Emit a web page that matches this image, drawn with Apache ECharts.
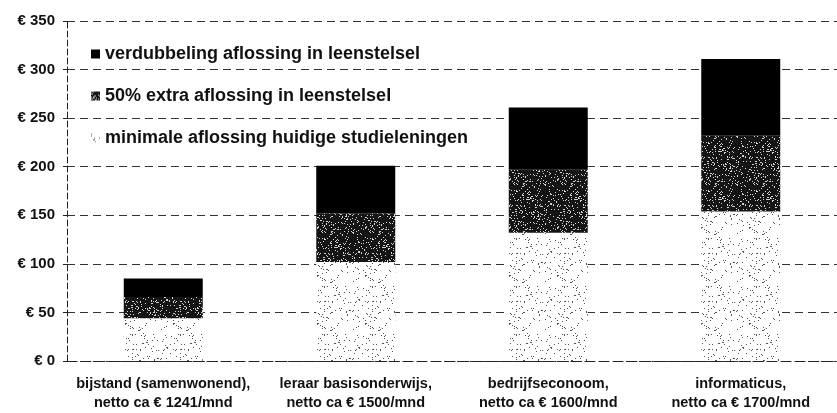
<!DOCTYPE html>
<html>
<head>
<meta charset="utf-8">
<script src="https://cdn.jsdelivr.net/npm/echarts@6/dist/echarts.min.js"></script>
<style>
html, body { margin: 0; padding: 0; background: #fff; }
#chart { width: 837px; height: 413px; }
</style>
</head>
<body>
<div id="chart"></div>
<script>
// categorieen + bedragen (euro per maand)
var categories = [
  'bijstand (samenwonend),\nnetto ca € 1241/mnd',
  'leraar basisonderwijs,\nnetto ca € 1500/mnd',
  'bedrijfseconoom,\nnetto ca € 1600/mnd',
  'informaticus,\nnetto ca € 1700/mnd'
];
var minimaal = [44, 102, 132, 154];
var extra50 = [22, 50, 65, 78];
var verdubbeling = [19, 49, 64, 79];

var seriesNames = [
  'verdubbeling aflossing in leenstelsel',
  '50% extra aflossing in leenstelsel',
  'minimale aflossing huidige studieleningen'
];

// gespikkelde vulling zoals in de scan (vast patroon, geen toeval)
function speckle(bg, dot, density) {
  var c = document.createElement('canvas');
  c.width = 48; c.height = 48;
  var ctx = c.getContext('2d');
  ctx.fillStyle = bg;
  ctx.fillRect(0, 0, 48, 48);
  ctx.fillStyle = dot;
  for (var y = 0; y < 48; y++) {
    for (var x = 0; x < 48; x++) {
      var h = Math.sin(x * 12.9898 + y * 78.233) * 43758.5453;
      h = h - Math.floor(h);
      if (h < density) ctx.fillRect(x, y, 1, 1);
    }
  }
  return { image: c, repeat: 'repeat' };
}

var chart = echarts.init(document.getElementById('chart'));
var font = 'Liberation Sans, Arial, sans-serif';

chart.setOption({
  animation: false,
  grid: { left: 67, right: -14, top: 21, bottom: 52 },
  legend: {
    orient: 'vertical',
    left: 86,
    top: 40,
    itemGap: 24,
    itemWidth: 9,
    itemHeight: 9,
    icon: 'rect',
    data: seriesNames,
    textStyle: { fontFamily: font, fontWeight: 'bold', fontSize: 18, color: '#111' }
  },
  xAxis: {
    type: 'category',
    data: categories,
    axisLine: { lineStyle: { color: '#222', type: [10, 4] } },
    axisTick: { show: false },
    axisLabel: {
      fontFamily: font, fontWeight: 'bold', fontSize: 14.5, color: '#111',
      lineHeight: 19, margin: 13, interval: 0
    }
  },
  yAxis: {
    type: 'value',
    min: 0, max: 350, interval: 50,
    axisLine: { show: true, lineStyle: { color: '#222', type: [6, 3] } },
    axisTick: { show: true, length: 4, lineStyle: { color: '#222' } },
    axisLabel: {
      fontFamily: font, fontWeight: 'bold', fontSize: 15, color: '#111', margin: 12,
      formatter: function (v) { return '€ ' + v; }
    },
    splitLine: { lineStyle: { color: '#333', type: [8, 5], width: 1 } }
  },
  series: [
    {
      name: seriesNames[2], type: 'bar', stack: 'a', barWidth: 79,
      data: minimaal,
      itemStyle: { color: speckle('#ffffff', '#555', 0.05) }
    },
    {
      name: seriesNames[1], type: 'bar', stack: 'a', barWidth: 79,
      data: extra50,
      itemStyle: { color: speckle('#151515', '#d0d0d0', 0.13) }
    },
    {
      name: seriesNames[0], type: 'bar', stack: 'a', barWidth: 79,
      data: verdubbeling,
      itemStyle: { color: '#000' }
    }
  ]
});
</script>
</body>
</html>
